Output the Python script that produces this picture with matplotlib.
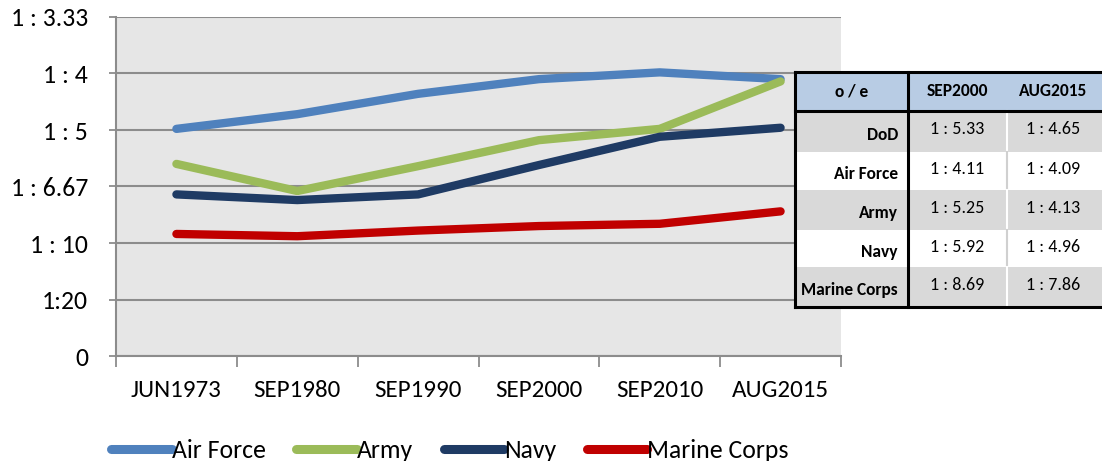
import numpy as np
import matplotlib
matplotlib.use("Agg")
import matplotlib.pyplot as plt
from matplotlib.patches import Rectangle
from matplotlib.lines import Line2D

# Data: officer-to-enlisted ratio (officers per enlisted)
periods = ["JUN1973", "SEP1980", "SEP1990", "SEP2000", "SEP2010", "AUG2015"]
air_force = [0.201, 0.214, 0.232, 0.245, 0.251, 0.245]
army = [0.170, 0.146, 0.168, 0.191, 0.201, 0.243]
navy = [0.143, 0.138, 0.143, 0.169, 0.194, 0.202]
marine_corps = [0.108, 0.106, 0.111, 0.115, 0.117, 0.128]

series_names = ["Air Force", "Army", "Navy", "Marine Corps"]
series_colors = ["#4f81bd", "#9bbb59", "#1f3b64", "#c00000"]

y_ticks = [0, 0.05, 0.10, 0.15, 0.20, 0.25, 0.30]
y_labels = ["0", "1:20", "1 : 10", "1 : 6.67", "1 : 5", "1 : 4", "1 : 3.33"]

# inset table
table_header = ["o / e", "SEP2000", "AUG2015"]
table_rows = ["DoD", "Air Force", "Army", "Navy", "Marine Corps"]
table_sep2000 = ["1 : 5.33", "1 : 4.11", "1 : 5.25", "1 : 5.92", "1 : 8.69"]
table_aug2015 = ["1 : 4.65", "1 : 4.09", "1 : 4.13", "1 : 4.96", "1 : 7.86"]

plt.rcParams["font.family"] = ["Carlito", "DejaVu Sans"]

W, H = 1102, 461
fig = plt.figure(figsize=(W / 100, H / 100), dpi=100)
ax = fig.add_axes([116 / W, 1 - 356 / H, (841 - 116) / W, (356 - 17) / H])
ax.set_facecolor("#e6e6e6")

x = np.arange(len(periods)) + 0.5
for vals, name, col in zip([air_force, army, navy, marine_corps], series_names, series_colors):
    ax.plot(x, vals, color=col, lw=6, solid_capstyle="round", label=name, zorder=3)

ax.set_xlim(0, len(periods))
ax.set_ylim(0, 0.30)
ax.set_yticks(y_ticks)
ax.set_yticklabels(y_labels, fontsize=18.5)
ax.yaxis.grid(True, color="#8c8c8c", lw=1.5)
ax.set_axisbelow(True)

ax.set_xticks(np.arange(len(periods) + 1))
ax.set_xticklabels([])
ax.set_xticks(x, minor=True)
ax.set_xticklabels(periods, minor=True, fontsize=18)
ax.tick_params(axis="x", which="major", length=8, width=1.3, color="#8c8c8c", direction="out")
ax.tick_params(axis="x", which="minor", length=0, pad=17)
ax.tick_params(axis="y", length=5, width=1.3, color="#8c8c8c", pad=15)

for s in ["top", "right"]:
    ax.spines[s].set_visible(False)
for s in ["left", "bottom"]:
    ax.spines[s].set_color("#8c8c8c")
    ax.spines[s].set_linewidth(1.5)

handles = [Line2D([], [], color=c, lw=6.5, solid_capstyle="round") for c in series_colors]
fig.legend(handles, series_names, loc="center", bbox_to_anchor=(450 / W, 1 - 450 / H),
           ncol=4, frameon=False, handlelength=2.35, handletextpad=0.0, columnspacing=1.2,
           prop={"size": 18.5})

# inset table drawn in its own axes (pixel units)
tw, th = W - 795, 307 - 72
tax = fig.add_axes([795 / W, 1 - 307 / H, tw / W, th / H])
tax.set_xlim(0, tw)
tax.set_ylim(th, 0)
tax.axis("off")

row_edges = [0, 39, 80, 118, 158, 195, 235]
col_edges = [0, 113, 212, 320]
fills = ["#b8cce4", "#d9d9d9", "#ffffff", "#d9d9d9", "#ffffff", "#d9d9d9"]
for i, fc in enumerate(fills):
    tax.add_patch(Rectangle((0, row_edges[i]), col_edges[-1], row_edges[i + 1] - row_edges[i],
                            facecolor=fc, edgecolor="none", clip_on=False))
# light separators between value columns
for i in range(1, 6):
    sep = "#ffffff" if fills[i] != "#ffffff" else "#d0d0d0"
    tax.plot([col_edges[2], col_edges[2]], [row_edges[i], row_edges[i + 1]], color=sep, lw=1.5, clip_on=False)
# black borders
for yy in [0, row_edges[1], row_edges[-1]]:
    tax.plot([0, col_edges[-1]], [yy, yy], color="black", lw=2.2, clip_on=False)
for xx in [0, col_edges[1]]:
    tax.plot([xx, xx], [0, row_edges[-1]], color="black", lw=2.2, clip_on=False)

hy = (row_edges[0] + row_edges[1]) / 2
for j, txt in enumerate(table_header):
    cx = (col_edges[j] + min(col_edges[j + 1], tw - 2)) / 2
    tax.text(cx, hy, txt, ha="center", va="center", fontsize=12.5, fontweight="bold")
for i, name in enumerate(table_rows):
    cy = (row_edges[i + 1] + row_edges[i + 2]) / 2
    tax.text(col_edges[1] - 10, cy + 3, name, ha="right", va="center", fontsize=12.5, fontweight="bold")
    tax.text((col_edges[1] + col_edges[2]) / 2, cy - 2, table_sep2000[i], ha="center", va="center",
             fontsize=13)
    tax.text((col_edges[2] + tw - 2) / 2, cy - 2, table_aug2015[i], ha="center", va="center",
             fontsize=13)

fig.savefig("out.png", dpi=100)
